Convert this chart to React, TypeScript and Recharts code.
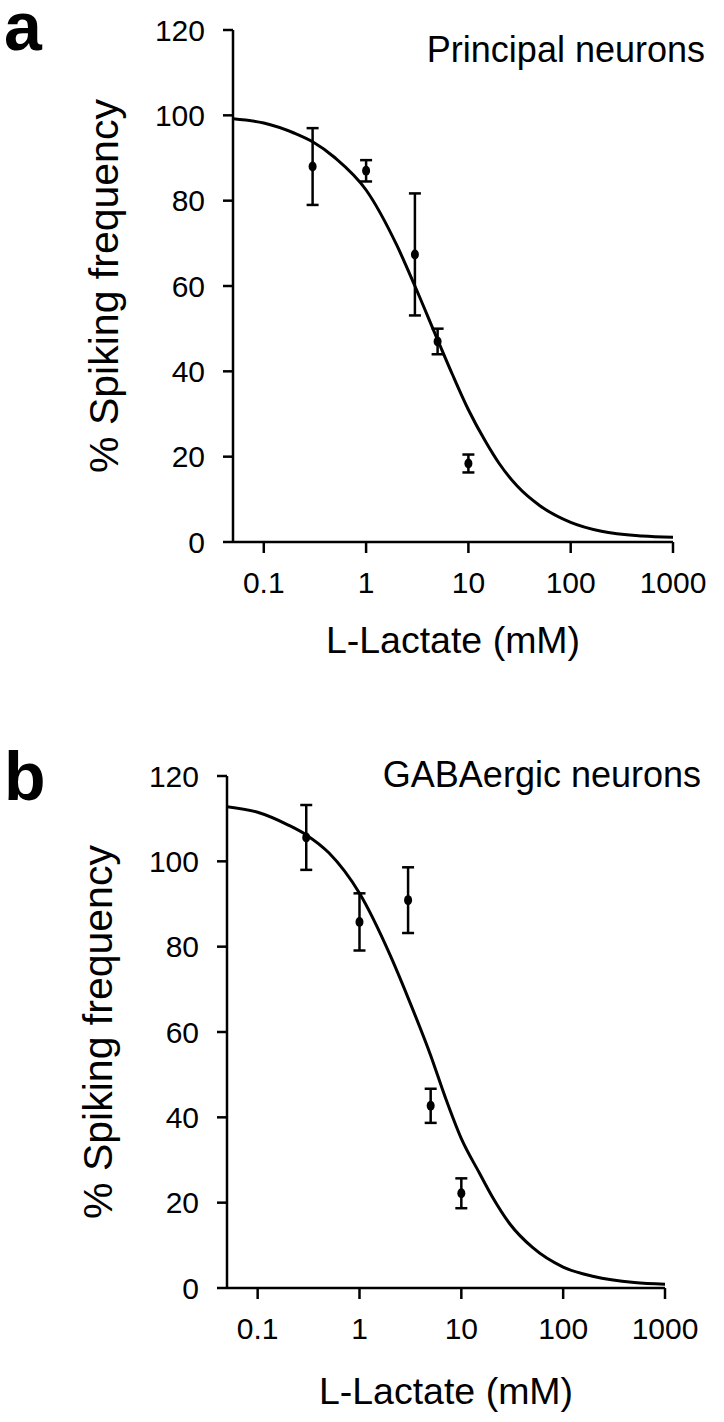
import { ComposedChart, Line, Scatter, ErrorBar, XAxis, YAxis, Label } from 'recharts'

const doseTicks = [0.1, 1, 10, 100, 1000]
const pctTicks = [0, 20, 40, 60, 80, 100, 120]

// measured points (mean ± error), L-lactate dose in mM
const principalDose = [0.3, 1, 3, 5, 10]
const principalMean = [88, 87, 67.4, 47, 18.4]
const principalErr = [9, 2.5, 14.3, 3, 2.1]

const gabaDose = [0.3, 1, 3, 5, 10]
const gabaMean = [105.6, 85.8, 90.9, 42.7, 22.2]
const gabaErr = [7.6, 6.7, 7.7, 4, 3.5]

// fitted curves
const fitDose = [0.05, 0.1, 0.2, 0.3, 0.5, 1, 2, 3, 5, 7, 10, 15, 20, 30, 50, 100, 200, 500, 1000]
const principalFit = [99.2, 98.2, 95.8, 93.8, 90, 82.5, 69.5, 60, 47.4, 39.2, 31, 23.2, 18.4, 13.1, 8.5, 4.6, 2.5, 1.4, 1.1]
const gabaFit = [112.8, 111.5, 108.5, 106.2, 102, 92.5, 78, 68, 54.5, 44.5, 35, 27, 21.5, 15, 9.5, 4.9, 2.7, 1.3, 0.9]

const FONT = '"Liberation Sans", Arial, sans-serif'
const INK = '#000'

const pairs = (xs: number[], ys: number[], errs?: number[]) =>
  xs.map((x, i) => ({ x, y: ys[i], err: errs ? errs[i] : 0 }))

const Dot = (props: any) => <ellipse cx={props.cx} cy={props.cy} rx={4} ry={5} fill={INK} />

interface PanelProps {
  top: number
  plotLeft: number
  plotRight: number
  plotTop: number
  plotBottom: number
  yTitleX: number
  xTitleDy: number
  points: { x: number; y: number; err: number }[]
  fit: { x: number; y: number; err: number }[]
}

const CHART_H = 711
const CHART_W = 724

function Panel({ top, plotLeft, plotRight, plotTop, plotBottom, yTitleX, xTitleDy, points, fit }: PanelProps) {
  return (
    <div style={{ position: 'absolute', left: 0, top, width: CHART_W, height: CHART_H }}>
      <ComposedChart
        width={CHART_W}
        height={CHART_H}
        margin={{ top: plotTop, right: CHART_W - plotRight, left: 0, bottom: 0 }}
      >
        <XAxis
          dataKey="x"
          type="number"
          scale="log"
          domain={[0.05, 1000]}
          ticks={doseTicks}
          allowDataOverflow
          height={CHART_H - plotBottom}
          tickSize={11}
          tickMargin={19}
          axisLine={{ stroke: INK, strokeWidth: 2.5 }}
          tickLine={{ stroke: INK, strokeWidth: 2.5 }}
          tick={{ fill: INK, fontSize: 30, fontFamily: FONT }}
        >
          <Label
            content={({ viewBox }: any) => (
              <text
                x={viewBox.x + viewBox.width / 2}
                y={viewBox.y + xTitleDy}
                textAnchor="middle"
                fontSize={37.5}
                fontFamily={FONT}
                fill={INK}
              >
                L-Lactate (mM)
              </text>
            )}
          />
        </XAxis>
        <YAxis
          type="number"
          domain={[0, 120]}
          ticks={pctTicks}
          width={plotLeft}
          tickSize={10}
          tickMargin={18}
          axisLine={{ stroke: INK, strokeWidth: 2.5 }}
          tickLine={{ stroke: INK, strokeWidth: 2.5 }}
          tick={{ fill: INK, fontSize: 30, fontFamily: FONT }}
        >
          <Label
            content={({ viewBox }: any) => {
              const cy = viewBox.y + viewBox.height / 2
              return (
                <text
                  x={yTitleX}
                  y={cy}
                  transform={`rotate(-90, ${yTitleX}, ${cy})`}
                  textAnchor="middle"
                  fontSize={41}
                  fontFamily={FONT}
                  fill={INK}
                >
                  % Spiking frequency
                </text>
              )
            }}
          />
        </YAxis>
        <Line
          data={fit}
          dataKey="y"
          type="monotone"
          stroke={INK}
          strokeWidth={3}
          dot={false}
          activeDot={false}
          isAnimationActive={false}
        />
        <Scatter data={points} dataKey="y" shape={Dot} isAnimationActive={false}>
          <ErrorBar dataKey="err" direction="y" width={6} stroke={INK} strokeWidth={2.5} isAnimationActive={false} />
        </Scatter>
      </ComposedChart>
    </div>
  )
}

export default function App() {
  return (
    <div style={{ position: 'absolute', left: 0, top: 0, width: 724, height: 1422, background: '#fff' }}>
      <Panel
        top={0}
        plotLeft={233}
        plotRight={673}
        plotTop={30}
        plotBottom={542}
        yTitleX={118}
        xTitleDy={111}
        points={pairs(principalDose, principalMean, principalErr)}
        fit={pairs(fitDose, principalFit)}
      />
      <Panel
        top={711}
        plotLeft={227}
        plotRight={665}
        plotTop={65}
        plotBottom={577}
        yTitleX={112}
        xTitleDy={116}
        points={pairs(gabaDose, gabaMean, gabaErr)}
        fit={pairs(fitDose, gabaFit)}
      />
      <svg
        width={724}
        height={1422}
        style={{ position: 'absolute', left: 0, top: 0, pointerEvents: 'none' }}
      >
        <text x={4} y={50} fontSize={68} fontWeight="bold" fontFamily={FONT} fill={INK}>a</text>
        <text x={4} y={800} fontSize={68} fontWeight="bold" fontFamily={FONT} fill={INK}>b</text>
        <text x={705} y={62} textAnchor="end" fontSize={36} fontFamily={FONT} fill={INK}>Principal neurons</text>
        <text x={701} y={787} textAnchor="end" fontSize={36} fontFamily={FONT} fill={INK}>GABAergic neurons</text>
      </svg>
    </div>
  )
}
